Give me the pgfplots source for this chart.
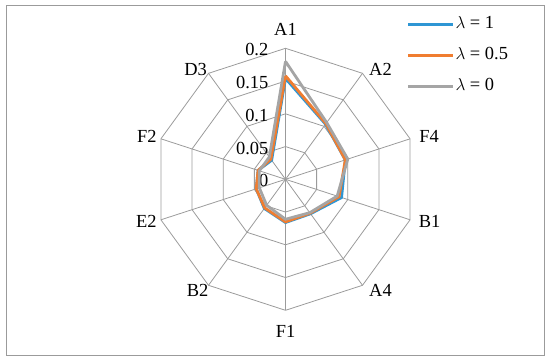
\documentclass[border=0pt]{standalone}
\usepackage{fontspec}
\setmainfont{Liberation Serif}
\usepackage{pgfplots}
\pgfplotsset{compat=1.18}
\usepgfplotslibrary{polar}
\definecolor{sblue}{RGB}{46,150,212}
\definecolor{sorange}{RGB}{240,125,48}
\definecolor{sgray}{RGB}{165,165,165}
\definecolor{gridcol}{RGB}{155,155,155}
\begin{document}
\begin{tikzpicture}[x=1bp,y=1bp]
\useasboundingbox (-285.5,-183.7) rectangle (264.5,179.3);
\draw[gridcol, line width=0.8bp] (-279.5,-175.7) rectangle (258.5,174.3);
\begin{polaraxis}[
  at={(0,0)}, anchor=center,
  scale only axis, width=262bp, height=262bp,
  xmin=0, xmax=360, ymin=0, ymax=0.2,
  hide axis, clip=false,
  legend cell align=left,
  legend image code/.code={\draw[#1] (0bp,0bp) -- (45bp,0bp);},
  legend style={at={(0.962,1.125)}, anchor=north west, draw=none, fill=none,
    font=\fontsize{18.5}{22}\selectfont, row sep=13bp, inner sep=0pt,
    nodes={inner sep=1bp, text height=12bp, text depth=4bp}},
]
\pgfplotsinvokeforeach{0.05,0.1,0.15,0.2}{
  \draw[gridcol, line width=0.8bp] (axis cs:90,#1) -- (axis cs:54,#1) -- (axis cs:18,#1) -- (axis cs:342,#1) -- (axis cs:306,#1) -- (axis cs:270,#1) -- (axis cs:234,#1) -- (axis cs:198,#1) -- (axis cs:162,#1) -- (axis cs:126,#1) -- cycle;
}
\pgfplotsinvokeforeach{90,54,18,342,306,270,234,198,162,126}{
  \draw[gridcol, line width=0.8bp] (axis cs:0,0) -- (axis cs:#1,0.2);
}
% radial tick labels
\pgfplotsinvokeforeach{0,0.05,0.1,0.15,0.2}{
  \node[anchor=east, xshift=-17bp, yshift=-1.5bp, inner sep=0pt, font=\fontsize{18.5}{22}\selectfont] at (axis cs:90,#1) {#1};
}
% category labels
\begin{scope}[every node/.style={inner sep=0pt, font=\fontsize{18.5}{22}\selectfont}]
\node[anchor=base, yshift=13bp] at (axis cs:90,0.2) {A1};
\node[anchor=base west, xshift=6.5bp, yshift=-2bp] at (axis cs:54,0.2) {A2};
\node[anchor=base west, xshift=9bp, yshift=-4bp] at (axis cs:18,0.2) {F4};
\node[anchor=base west, xshift=8.5bp, yshift=-8bp] at (axis cs:342,0.2) {B1};
\node[anchor=base west, xshift=6.5bp, yshift=-11.7bp] at (axis cs:306,0.2) {A4};
\node[anchor=base, yshift=-26.7bp] at (axis cs:270,0.2) {F1};
\node[anchor=base east, xshift=0bp, yshift=-11.7bp] at (axis cs:234,0.2) {B2};
\node[anchor=base east, xshift=-4bp, yshift=-8bp] at (axis cs:198,0.2) {E2};
\node[anchor=base east, xshift=-4bp, yshift=-4bp] at (axis cs:162,0.2) {F2};
\node[anchor=base east, xshift=-1.5bp, yshift=-2bp] at (axis cs:126,0.2) {D3};
\end{scope}
% data: angle, value  (A1, A2, F4, B1, A4, F1, B2, E2, F2, D3)
\addplot[sblue, line width=2.8bp, no markers] coordinates {
 (90,0.154) (54,0.104) (18,0.096) (342,0.090) (306,0.065) (270,0.066) (234,0.055) (198,0.047) (162,0.044) (126,0.036) (90,0.154)};
\addlegendentry{$\lambda$ = 1}
\addplot[sorange, line width=2.8bp, no markers] coordinates {
 (90,0.158) (54,0.105) (18,0.096) (342,0.086) (306,0.064) (270,0.065) (234,0.054) (198,0.047) (162,0.044) (126,0.038) (90,0.158)};
\addlegendentry{$\lambda$ = 0.5}
\addplot[sgray, line width=2.8bp, no markers] coordinates {
 (90,0.180) (54,0.107) (18,0.100) (342,0.083) (306,0.063) (270,0.061) (234,0.049) (198,0.042) (162,0.042) (126,0.042) (90,0.180)};
\addlegendentry{$\lambda$ = 0}
\end{polaraxis}
\end{tikzpicture}
\end{document}
